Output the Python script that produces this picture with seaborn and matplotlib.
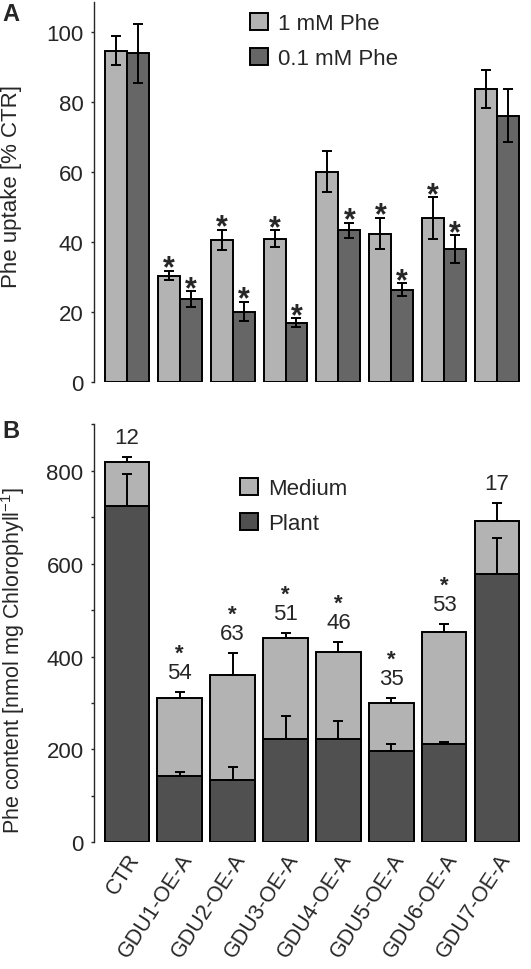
import numpy as np
import pandas as pd
import matplotlib
matplotlib.use("Agg")
import matplotlib.pyplot as plt
import matplotlib.transforms as mtransforms
import seaborn as sns

# genotypes (x axis)
lines = ["CTR", "GDU1-OE-A", "GDU2-OE-A", "GDU3-OE-A",
         "GDU4-OE-A", "GDU5-OE-A", "GDU6-OE-A", "GDU7-OE-A"]

# panel A: Phe uptake [% CTR]
uptake_1mM = [94.7, 30.4, 40.6, 41.0, 60.1, 42.4, 46.9, 83.8]
uptake_1mM_err = [4.2, 1.4, 2.8, 2.3, 5.9, 4.5, 5.9, 5.4]
uptake_01mM = [93.9, 23.7, 20.1, 16.9, 43.3, 26.4, 37.9, 76.1]
uptake_01mM_err = [8.5, 2.2, 2.7, 1.3, 2.2, 1.8, 4.0, 7.6]
sig_1mM = [False, True, True, True, False, True, True, False]
sig_01mM = [False, True, True, True, True, True, True, False]

# panel B: Phe content [nmol mg Chlorophyll-1]
total_content = [818, 311, 361, 441, 410, 300, 452, 692]
total_err = [11, 13, 47, 10, 21, 11, 18, 39]
plant_content = [724, 143, 134, 222, 222, 196, 211, 577]
plant_err = [70, 9, 29, 50, 39, 16, 6, 78]
medium_pct = ["12", "54", "63", "51", "46", "35", "53", "17"]
sig_content = [False, True, True, True, True, True, True, False]

light = "#b3b3b3"
dark_a = "#666666"
dark_b = "#505050"

sns.set_style("ticks")
plt.rcParams["font.family"] = ["Liberation Sans", "DejaVu Sans"]
plt.rcParams["mathtext.fontset"] = "custom"
plt.rcParams["mathtext.rm"] = "Liberation Sans"
plt.rcParams["mathtext.bf"] = "Liberation Sans:bold"
plt.rcParams["font.size"] = 16

fig = plt.figure(figsize=(5.31, 9.70), dpi=100)
ax_a = fig.add_axes([0.177, 0.6052, 0.821, 0.3917])
ax_b = fig.add_axes([0.177, 0.1306, 0.821, 0.4309])

# ---- panel A ----
df_a = pd.DataFrame({
    "line": lines * 2,
    "conc": ["1 mM Phe"] * len(lines) + ["0.1 mM Phe"] * len(lines),
    "uptake": uptake_1mM + uptake_01mM,
})
sns.barplot(data=df_a, x="line", y="uptake", hue="conc",
            palette=[light, dark_a], width=0.83, saturation=1,
            edgecolor="black", linewidth=1.4, errorbar=None, ax=ax_a)

for cont, vals, errs, sig in zip(ax_a.containers,
                                 [uptake_1mM, uptake_01mM],
                                 [uptake_1mM_err, uptake_01mM_err],
                                 [sig_1mM, sig_01mM]):
    xs = [b.get_x() + b.get_width() / 2 for b in cont]
    ax_a.errorbar(xs, vals, yerr=errs, fmt="none", ecolor="black",
                  elinewidth=1.4, capsize=3.5, capthick=1.4)
    for x, v, e, s in zip(xs, vals, errs, sig):
        if s:
            ax_a.annotate("*", (x, v + e), xytext=(0, -4),
                          textcoords="offset points", ha="center",
                          va="baseline", fontsize=22, fontweight="bold")

ax_a.set_ylim(0, 108.6)
ax_a.set_xlim(-0.62, 7.62)
ax_a.set_yticks([0, 20, 40, 60, 80, 100])
ax_a.set_xlabel("")
ax_a.set_ylabel("")
ax_a.tick_params(axis="x", bottom=False, labelbottom=False)
ax_a.tick_params(axis="y", length=2.5, width=1, labelsize=16, pad=5)
for side in ["top", "right", "bottom"]:
    ax_a.spines[side].set_visible(False)
ax_a.spines["left"].set_linewidth(1)

h, l = ax_a.get_legend_handles_labels()
ax_a.legend(h, l, loc="upper left", bbox_to_anchor=(250 / 531, 1 - 14 / 970),
            bbox_transform=fig.transFigure, frameon=False, fontsize=16,
            handlelength=0.8, handleheight=0.8, handletextpad=0.45,
            labelspacing=0.6, borderpad=0, borderaxespad=0)

# ---- panel B ----
sns.barplot(x=lines, y=total_content, color=light, width=0.84, saturation=1,
            edgecolor="black", linewidth=1.4, errorbar=None, label="Medium",
            ax=ax_b)
sns.barplot(x=lines, y=plant_content, color=dark_b, width=0.84, saturation=1,
            edgecolor="black", linewidth=1.4, errorbar=None, label="Plant",
            ax=ax_b)

xs_b = np.arange(len(lines))
ax_b.errorbar(xs_b, total_content, yerr=[np.zeros(len(lines)), total_err],
              fmt="none", ecolor="black", elinewidth=1.4, capsize=3.5, capthick=1.4)
ax_b.errorbar(xs_b, plant_content, yerr=[np.zeros(len(lines)), plant_err],
              fmt="none", ecolor="black", elinewidth=1.4, capsize=3.5, capthick=1.4)

# percentage of Phe left in the medium, with significance star on top
for x, v, e, pct, s in zip(xs_b, total_content, total_err, medium_pct, sig_content):
    label = ("$\\mathbf{*}$\n" + pct) if s else pct
    ax_b.annotate(label, (x, v + e), xytext=(0, 10), textcoords="offset points",
                  ha="center", va="baseline", fontsize=16, linespacing=0.95,
                  multialignment="center")

ax_b.set_ylim(0, 900)
ax_b.set_xlim(-0.62, 7.62)
yt = list(range(0, 901, 100))
ax_b.set_yticks(yt)
ax_b.set_yticklabels([str(v) if v % 200 == 0 and v < 900 else "" for v in yt])
ax_b.tick_params(axis="y", length=2.5, width=1, labelsize=16, pad=5)
ax_b.tick_params(axis="x", length=0, labelsize=15.5, pad=6)
for side in ["top", "right", "bottom"]:
    ax_b.spines[side].set_visible(False)
ax_b.spines["left"].set_linewidth(1)

shift = mtransforms.ScaledTranslation(9 / 100, -4 / 100, fig.dpi_scale_trans)
for lab in ax_b.get_xticklabels():
    lab.set_rotation(57)
    lab.set_ha("right")
    lab.set_va("center")
    lab.set_rotation_mode("anchor")
    lab.set_transform(lab.get_transform() + shift)

h, l = ax_b.get_legend_handles_labels()
ax_b.legend(h, l, loc="upper left", bbox_to_anchor=(240 / 531, 1 - 479 / 970),
            bbox_transform=fig.transFigure, frameon=False, fontsize=16,
            handlelength=0.8, handleheight=0.8, handletextpad=0.45,
            labelspacing=0.6, borderpad=0, borderaxespad=0)

# axis titles and panel letters
fig.text(12 / 531, 1 - 186 / 970, "Phe uptake [% CTR]", rotation=90,
         ha="center", va="center", fontsize=16)
fig.text(13 / 531, 1 - 660 / 970, "Phe content [nmol mg Chlorophyll$^{-1}$]",
         rotation=90, ha="center", va="center", fontsize=15.5)
fig.text(2 / 531, 1 - 3 / 970, "A", ha="left", va="top", fontsize=17,
         fontweight="bold")
fig.text(2 / 531, 1 - 420 / 970, "B", ha="left", va="top", fontsize=17,
         fontweight="bold")

fig.savefig("out.png", dpi=100)
